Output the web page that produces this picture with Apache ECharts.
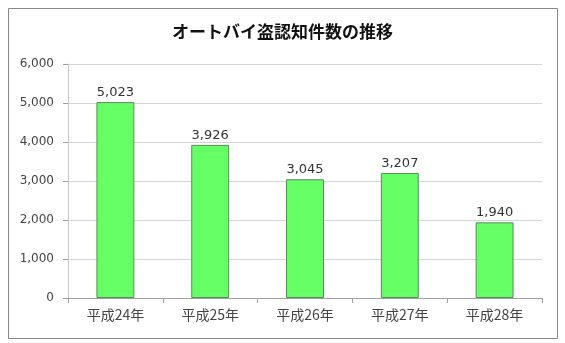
<!DOCTYPE html>
<html><head><meta charset="utf-8">
<script src="https://cdn.jsdelivr.net/npm/echarts@6/dist/echarts.min.js"></script>
<style>html,body{margin:0;padding:0;background:#fff}#c{width:565px;height:343px}</style>
</head><body><div id="c"></div>
<script>
var titleText = 'オートバイ盗認知件数の推移';
var categories = ['平成24年', '平成25年', '平成26年', '平成27年', '平成28年'];
var values = [5023, 3926, 3045, 3207, 1940];
var yTicks = [0, 1000, 2000, 3000, 4000, 5000, 6000];

var chart = echarts.init(document.getElementById('c'));
chart.setOption({
  animation: false,
  backgroundColor: '#fff',
  title: {
    text: titleText, left: 'center', top: 18,
    textStyle: { fontFamily: 'Noto Sans CJK JP', fontSize: 17, fontWeight: 'bold', color: '#111' }
  },
  graphic: [{
    type: 'rect', shape: { x: 8.5, y: 8.5, width: 549, height: 330 },
    style: { fill: 'none', stroke: '#888', lineWidth: 1 }, z: -1
  }],
  grid: { left: 68, right: 23, top: 64, bottom: 45 },
  xAxis: {
    type: 'category', data: categories,
    axisLine: { lineStyle: { color: '#a0a0a0' } },
    axisTick: { show: true, length: 5, lineStyle: { color: '#a0a0a0' } },
    axisLabel: { fontFamily: 'Noto Sans CJK JP', fontSize: 14, color: '#444', margin: 10 }
  },
  yAxis: {
    type: 'value', min: yTicks[0], max: yTicks[yTicks.length - 1], interval: 1000,
    axisLine: { show: true, lineStyle: { color: '#c8c8c8' } },
    axisTick: { show: true, length: 5, lineStyle: { color: '#a0a0a0' } },
    splitLine: { lineStyle: { color: '#d4d4d4' } },
    axisLabel: {
      fontFamily: 'DejaVu Sans', fontSize: 12, color: '#444', margin: 14,
      formatter: function (v) { return v.toLocaleString('en-US'); }
    }
  },
  series: [{
    type: 'bar', data: values, barWidth: '40%',
    itemStyle: { color: '#66ff66', borderColor: '#5a8a5a', borderWidth: 1 },
    label: {
      show: true, position: 'top', distance: 3,
      fontFamily: 'DejaVu Sans', fontSize: 13, color: '#333',
      formatter: function (p) { return p.value.toLocaleString('en-US'); }
    }
  }]
});
</script></body></html>
